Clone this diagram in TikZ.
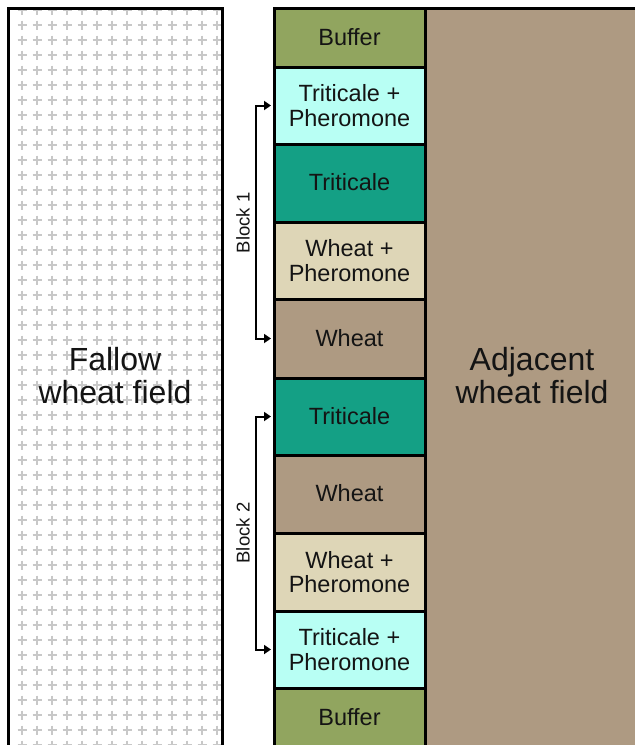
\documentclass[tikz,border=0pt]{standalone}
\usepackage{fontspec}
\setmainfont{Liberation Sans}
\usetikzlibrary{arrows.meta}

\definecolor{bufferc}{RGB}{145,165,95}
\definecolor{tripherc}{RGB}{184,255,244}
\definecolor{tritc}{RGB}{20,160,133}
\definecolor{wheatpherc}{RGB}{222,214,183}
\definecolor{wheatc}{RGB}{174,154,130}
\definecolor{plusc}{RGB}{200,200,200}
\definecolor{inkc}{RGB}{20,20,20}

\begin{document}
\begin{tikzpicture}[x=1pt,y=-1pt,
  plotbox/.style={draw=black, line width=3pt, minimum width=151pt,
    inner sep=0pt, align=center, text=inkc,
    font=\fontsize{23.5}{24.5}\selectfont},
  fieldlabel/.style={align=center, text=inkc,
    font=\fontsize{32}{33}\selectfont},
  blocklabel/.style={rotate=90, text=inkc, font=\fontsize{18.5}{20}\selectfont},
  bracket/.style={line width=2pt, shorten <=1.5pt, shorten >=1.5pt,
    {Triangle[length=7pt,width=9pt]}-{Triangle[length=7pt,width=9pt]}}
]
\useasboundingbox (0,0) rectangle (635,745);

% fallow field with its grid of plus marks
\begin{scope}
  \clip (8,8) rectangle (222,770);
  \fill[white] (8,8) rectangle (222,770);
  \foreach \i in {0,...,13}{
    \foreach \j in {0,...,50}{
      \draw[plusc, line width=2pt] (22+15*\i-4.5, 10+15*\j) -- ++(9,0)
        (22+15*\i, 10+15*\j-4.5) -- ++(0,9);
    }
  }
\end{scope}
\draw[line width=3pt] (8,8) rectangle (222,770);
\node[fieldlabel] (fallow) at (115,376) {Fallow\\wheat field};

% adjacent field
\fill[wheatc] (425,8) rectangle (640,770);
\draw[line width=3pt] (640,8) -- (425,8) -- (425,770);
\node[fieldlabel] (adjacent) at (532,376) {Adjacent\\wheat field};

% plot strip
\node[plotbox, fill=bufferc,    minimum height=59pt] (buf1) at (349.5,37.5)  {\raisebox{1.5pt}{Buffer}};
\node[plotbox, fill=tripherc,   minimum height=77pt] (tp1)  at (349.5,105.5) {Triticale +\\Pheromone};
\node[plotbox, fill=tritc,      minimum height=78pt] (t1)   at (349.5,183)   {\raisebox{1.5pt}{Triticale}};
\node[plotbox, fill=wheatpherc, minimum height=77pt] (wp1)  at (349.5,260.5) {Wheat +\\Pheromone};
\node[plotbox, fill=wheatc,     minimum height=79pt] (w1)   at (349.5,338.5) {\raisebox{1.5pt}{Wheat}};
\node[plotbox, fill=tritc,      minimum height=77pt] (t2)   at (349.5,416.5) {\raisebox{1.5pt}{Triticale}};
\node[plotbox, fill=wheatc,     minimum height=78pt] (w2)   at (349.5,494)   {\raisebox{1.5pt}{Wheat}};
\node[plotbox, fill=wheatpherc, minimum height=78pt] (wp2)  at (349.5,572)   {Wheat +\\Pheromone};
\node[plotbox, fill=tripherc,   minimum height=77pt] (tp2)  at (349.5,649.5) {Triticale +\\Pheromone};
\node[plotbox, fill=bufferc,    minimum height=60pt] (buf2) at (349.5,718)   {\raisebox{1.5pt}{Buffer}};

% block brackets
\draw[bracket] (tp1.west) -- ++(-17,0) |- (w1.west);
\draw[bracket] (t2.west) -- ++(-17,0) |- (tp2.west);
\node[blocklabel] (block1) at (243,223) {Block 1};
\node[blocklabel] (block2) at (243,533) {Block 2};
\end{tikzpicture}
\end{document}
